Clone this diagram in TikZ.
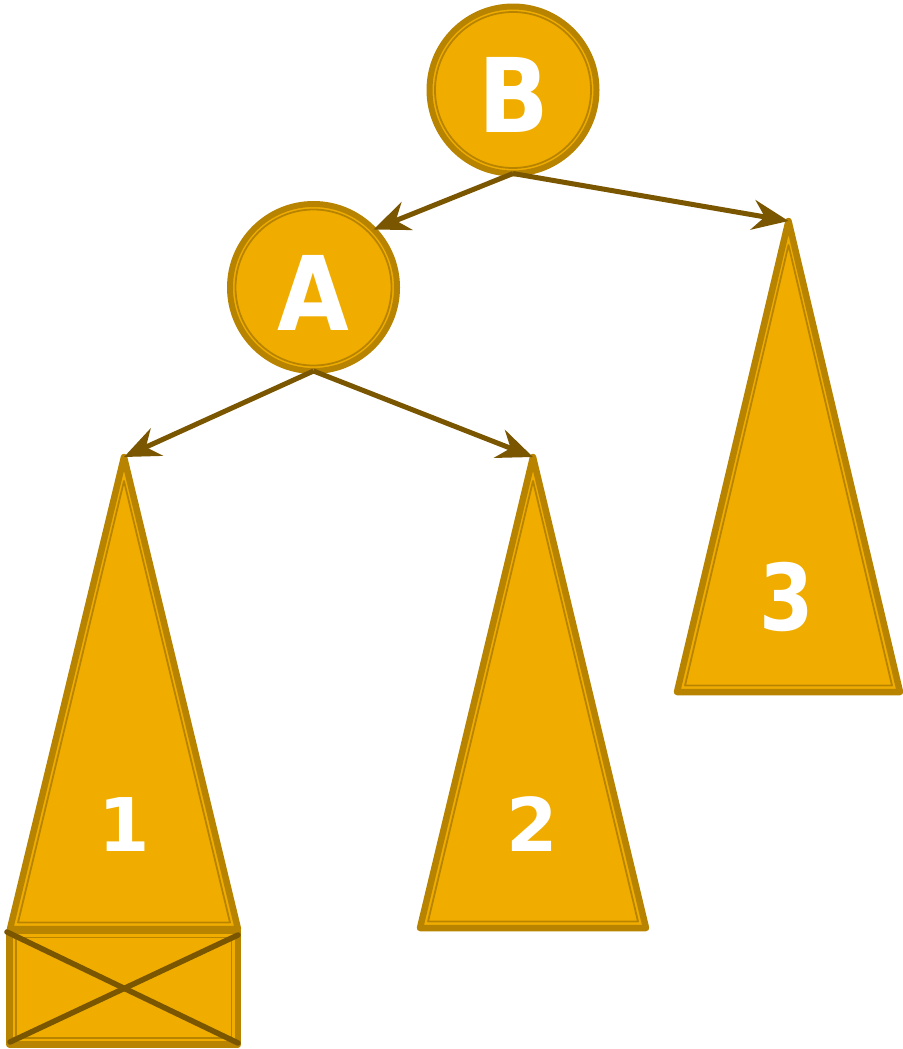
\documentclass[tikz,border=0pt]{standalone}
\usepackage{fontspec}
\newfontfamily\djb{DejaVu Sans}
\usetikzlibrary{arrows.meta}
\definecolor{gfill}{RGB}{240,173,0}
\definecolor{gline}{RGB}{184,132,0}
\definecolor{garrow}{RGB}{122,86,0}
\tikzset{
  outerline/.style={draw=gline, fill=gfill, line width=6.5pt, line join=round},
  innerline/.style={draw=gline, line width=1.8pt, line join=round},
  ringnode/.style={circle, outerline, line width=6pt, minimum size=167pt, inner sep=0pt, outer sep=0pt},
  bigletter/.style={text=white, font=\djb\bfseries\fontsize{103}{103}\selectfont, inner sep=0pt, xscale=0.9},
  numletter/.style={text=white, font=\djb\bfseries\fontsize{74}{74}\selectfont, inner sep=0pt},
  connector/.style={draw=garrow, line width=5pt, -{Stealth[length=36pt,width=30pt,inset=12pt]}},
  crossline/.style={draw=garrow, line width=5.5pt, line cap=round}
}
\newcommand\mytri[5]{% name, cx, ytop, ybot, halfw
  \coordinate (#1) at (#2,#3);
  \path[outerline] (#2,#3) -- ({#2-#5},#4) -- ({#2+#5},#4) -- cycle;
  \draw[innerline] (#2,{#3+24}) -- ({#2-#5+8},{#4-6.5}) -- ({#2+#5-8},{#4-6.5}) -- cycle;
}
\begin{document}
\begin{tikzpicture}[x=1pt,y=-1pt]
\useasboundingbox (0,0) rectangle (902,1049);
% box under triangle 1
\path[outerline] (9.5,931) rectangle (238,1044.5);
\draw[innerline] (16,937.5) rectangle (231.5,1038);
% triangles
\mytri{t1}{124}{457}{929}{114}
\mytri{t2}{533}{457}{928}{113}
\mytri{t3}{788.5}{221}{692}{111.5}
% cross in box
\coordinate (xa) at (7,932);
\coordinate (xb) at (238,1043);
\coordinate (xc) at (10,1042);
\coordinate (xd) at (238,935);
\draw[crossline] (xa) -- (xb);
\draw[crossline] (xc) -- (xd);
% circles
\node[ringnode] (B) at (513,90) {};
\draw[innerline] (B.center) circle[radius=78pt];
\node[ringnode] (A) at (313.5,287.5) {};
\draw[innerline] (A.center) circle[radius=78pt];
\node[bigletter] (Bt) at (514,95) {B};
\node[bigletter] (At) at (313.5,292.5) {A};
% numbers
\node[numletter] (n1) at (124,825) {1};
\node[numletter] (n2) at (532,824) {2};
\node[numletter, font=\djb\bfseries\fontsize{92}{92}\selectfont, xscale=0.85] (n3) at (787,597) {3};
% connectors
\draw[connector] (B.south) -- (A.44);
\draw[connector] (B.south) -- (t3);
\draw[connector] (A.south) -- (t1);
\draw[connector] (A.south) -- (t2);
\end{tikzpicture}
\end{document}
